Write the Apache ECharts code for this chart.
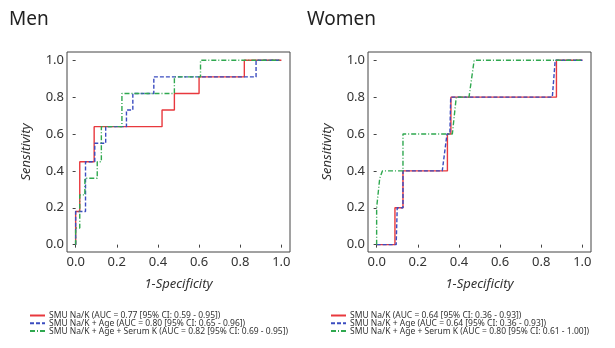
<!DOCTYPE html>
<html>
<head>
<meta charset="utf-8">
<script src="https://cdn.jsdelivr.net/npm/echarts@6/dist/echarts.min.js"></script>
<style>html,body{margin:0;padding:0;background:#fff}#c{width:615px;height:348px}</style>
</head>
<body>
<div id="c"></div>
<script>
// Panel titles and axis labels
var panelTitles = ['Men', 'Women'];
var xName = '1-Specificity';
var yName = 'Sensitivity';
var tickValues = [0, 0.2, 0.4, 0.6, 0.8, 1.0];

// Men ROC curves: [1-specificity, sensitivity]
var menNaK = [[0,0],[0,0.18],[0.02,0.18],[0.02,0.45],[0.09,0.45],[0.09,0.64],[0.42,0.64],[0.42,0.73],[0.48,0.73],[0.48,0.82],[0.6,0.82],[0.6,0.91],[0.82,0.91],[0.82,1.0],[1,1]];
var menNaKAge = [[0,0],[0,0.18],[0.048,0.18],[0.048,0.45],[0.093,0.45],[0.093,0.55],[0.146,0.55],[0.146,0.64],[0.247,0.64],[0.247,0.73],[0.278,0.73],[0.278,0.82],[0.38,0.82],[0.38,0.91],[0.877,0.91],[0.877,1.0],[1,1]];
var menNaKAgeK = [[0,0],[0,0.09],[0.02,0.09],[0.02,0.27],[0.045,0.27],[0.045,0.36],[0.105,0.36],[0.105,0.45],[0.125,0.45],[0.125,0.64],[0.225,0.64],[0.225,0.82],[0.48,0.82],[0.48,0.91],[0.607,0.91],[0.607,1.0],[1,1]];

// Women ROC curves
var womenNaK = [[0,0],[0.089,0],[0.089,0.2],[0.128,0.2],[0.128,0.4],[0.344,0.4],[0.344,0.6],[0.361,0.6],[0.361,0.8],[0.874,0.8],[0.874,1.0],[1,1]];
var womenNaKAge = [[0,0],[0.095,0],[0.1,0.2],[0.128,0.2],[0.128,0.4],[0.319,0.4],[0.342,0.6],[0.356,0.6],[0.36,0.8],[0.854,0.8],[0.868,1.0],[1,1]];
var womenNaKAgeK = [[0,0],[0,0.2],[0.015,0.36],[0.028,0.4],[0.128,0.4],[0.128,0.6],[0.368,0.6],[0.387,0.8],[0.449,0.8],[0.474,1.0],[1,1]];

// Legend names
var menNames = [
  'SMU Na/K (AUC = 0.77 [95% CI: 0.59 - 0.95])',
  'SMU Na/K + Age (AUC = 0.80 [95% CI: 0.65 - 0.96])',
  'SMU Na/K + Age + Serum K (AUC = 0.82 [95% CI: 0.69 - 0.95])'
];
var womenNames = [
  'SMU Na/K (AUC = 0.64 [95% CI: 0.36 - 0.93])',
  'SMU Na/K + Age (AUC = 0.64 [95% CI: 0.36 - 0.93])',
  'SMU Na/K + Age + Serum K (AUC = 0.80 [95% CI: 0.61 - 1.00])'
];

var colors = ['#e8383d', '#3b4cc0', '#2fa84f'];
var dashes = ['solid', [4, 2], [5, 2, 1, 2]];
var font = 'Noto Sans';

var chart = echarts.init(document.getElementById('c'), null, {renderer: 'canvas'});

var grids = [
  {left: 67, top: 52, width: 223, height: 200, show: true, borderColor: '#444', borderWidth: 1},
  {left: 368, top: 52, width: 223, height: 200, show: true, borderColor: '#444', borderWidth: 1}
];

function xAxisFor(i) {
  return {
    type: 'value', gridIndex: i, min: -0.042, max: 1.042,
    name: xName, nameLocation: 'middle', nameGap: 26,
    nameTextStyle: {fontFamily: font, fontStyle: 'italic', fontSize: 13, color: '#333'},
    axisLine: {show: false},
    axisTick: {show: true, inside: false, length: 3, customValues: tickValues, lineStyle: {color: '#444'}},
    axisLabel: {customValues: tickValues, margin: 4, fontFamily: font, fontSize: 13, color: '#333',
      formatter: function (v) { return v.toFixed(1); }},
    splitLine: {show: false}
  };
}
function yAxisFor(i) {
  return {
    type: 'value', gridIndex: i, min: -0.04, max: 1.045,
    name: yName, nameLocation: 'middle', nameGap: 34, nameRotate: 90,
    nameTextStyle: {fontFamily: font, fontStyle: 'italic', fontSize: 13, color: '#333'},
    axisLine: {show: false},
    axisTick: {show: true, inside: false, length: 3, customValues: tickValues, lineStyle: {color: '#444'}},
    axisLabel: {customValues: tickValues, margin: 3, fontFamily: font, fontSize: 13, color: '#333',
      formatter: function (v) { return v.toFixed(1); }},
    splitLine: {show: false}
  };
}

function mkSeries(name, data, k, gi) {
  return {
    type: 'line', name: name, data: data, xAxisIndex: gi, yAxisIndex: gi,
    showSymbol: false, symbol: 'none', animation: false,
    lineStyle: {color: colors[k], width: 1.4, type: dashes[k]},
    itemStyle: {color: colors[k]}
  };
}

var series = [
  mkSeries(menNames[0], menNaK, 0, 0),
  mkSeries(menNames[1], menNaKAge, 1, 0),
  mkSeries(menNames[2], menNaKAgeK, 2, 0),
  mkSeries(womenNames[0], womenNaK, 0, 1),
  mkSeries(womenNames[1], womenNaKAge, 1, 1),
  mkSeries(womenNames[2], womenNaKAgeK, 2, 1)
];

function legendFor(names, left) {
  return {
    data: names, orient: 'vertical', left: left, top: 311,
    itemWidth: 15, itemHeight: 7, itemGap: -1.2, padding: 0,
    itemStyle: {opacity: 0},
    textStyle: {fontFamily: font, fontSize: 8.5, color: '#333', padding: [0, 0, 0, -1]},
    selectedMode: false
  };
}

chart.setOption({
  animation: false,
  title: [
    {text: panelTitles[0], left: 9, top: 10, padding: 0, textStyle: {fontFamily: font, fontWeight: 'normal', fontSize: 19, color: '#222'}},
    {text: panelTitles[1], left: 307, top: 10, padding: 0, textStyle: {fontFamily: font, fontWeight: 'normal', fontSize: 19, color: '#222'}}
  ],
  grid: grids,
  xAxis: [xAxisFor(0), xAxisFor(1)],
  yAxis: [yAxisFor(0), yAxisFor(1)],
  legend: [legendFor(menNames, 29), legendFor(womenNames, 330)],
  series: series
});
</script>
</body>
</html>
